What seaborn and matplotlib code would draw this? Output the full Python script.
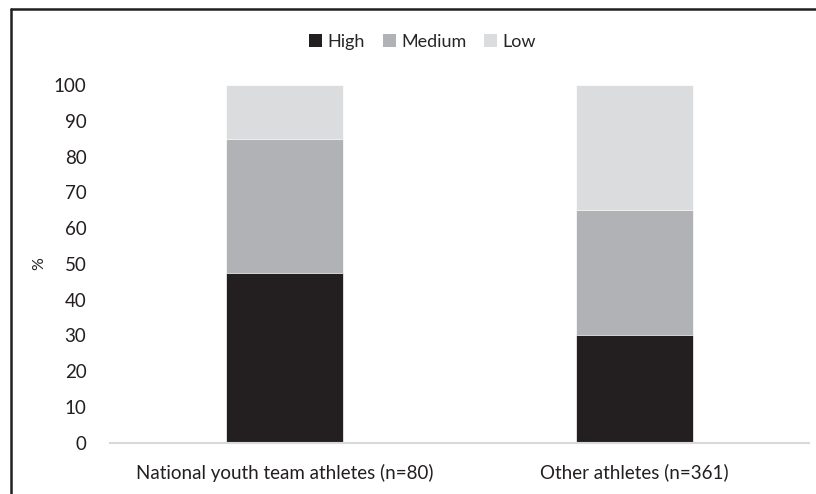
import seaborn as sns
import matplotlib.pyplot as plt
from matplotlib.patches import Patch
from matplotlib.lines import Line2D
import numpy as np

groups = ["National youth team athletes (n=80)", "Other athletes (n=361)"]
high = [47.5, 30]
medium = [37.5, 35]
low = [15, 35]
levels = ["High", "Medium", "Low"]
colors = {"High": "#231f20", "Medium": "#b1b2b5", "Low": "#dbdcde"}

sns.set_style("white")
plt.rcParams["font.family"] = ["Lato", "DejaVu Sans"]

fig = plt.figure(figsize=(8.16, 4.94), dpi=100)
ax = fig.add_axes([110 / 816, 1 - 442.7 / 494, 699 / 816, (442.7 - 85) / 494])

# stacked bars drawn as cumulative totals, largest first
h = np.array(high)
m = np.array(medium)
l = np.array(low)
for vals, lev in [(h + m + l, "Low"), (h + m, "Medium"), (h, "High")]:
    sns.barplot(x=groups, y=vals, color=colors[lev], width=0.335,
                saturation=1, ax=ax, edgecolor="white", linewidth=0.5)

ax.set_ylim(0, 100)
ax.set_xlim(-0.5, 1.5)
ax.set_yticks(range(0, 101, 10))
ax.tick_params(axis="y", length=0, pad=17, labelsize=13.5, colors="#231f20")
ax.tick_params(axis="x", length=0, pad=15, labelsize=13.5, colors="#231f20")
for s in ["top", "right", "left"]:
    ax.spines[s].set_visible(False)
ax.spines["bottom"].set_color("#d9d9d9")
ax.spines["bottom"].set_linewidth(1.5)
ax.set_ylabel("%", fontsize=11.5, color="#231f20", labelpad=5)

handles = [Patch(facecolor=colors[k], edgecolor="none", label=k) for k in levels]
fig.legend(handles=handles, loc="center", bbox_to_anchor=(0.518, 1 - 42 / 494),
           ncol=3, frameon=False, fontsize=13, handlelength=0.7,
           handleheight=0.7, handletextpad=0.3, columnspacing=1.0)

# outer frame (top and left)
fig.add_artist(Line2D([11 / 816, 11 / 816], [0, 1 - 9 / 494], color="#231f20",
                      linewidth=1.8, transform=fig.transFigure))
fig.add_artist(Line2D([11 / 816, 1], [1 - 9 / 494, 1 - 9 / 494], color="#231f20",
                      linewidth=1.8, transform=fig.transFigure))

fig.savefig("out.png", dpi=100)
